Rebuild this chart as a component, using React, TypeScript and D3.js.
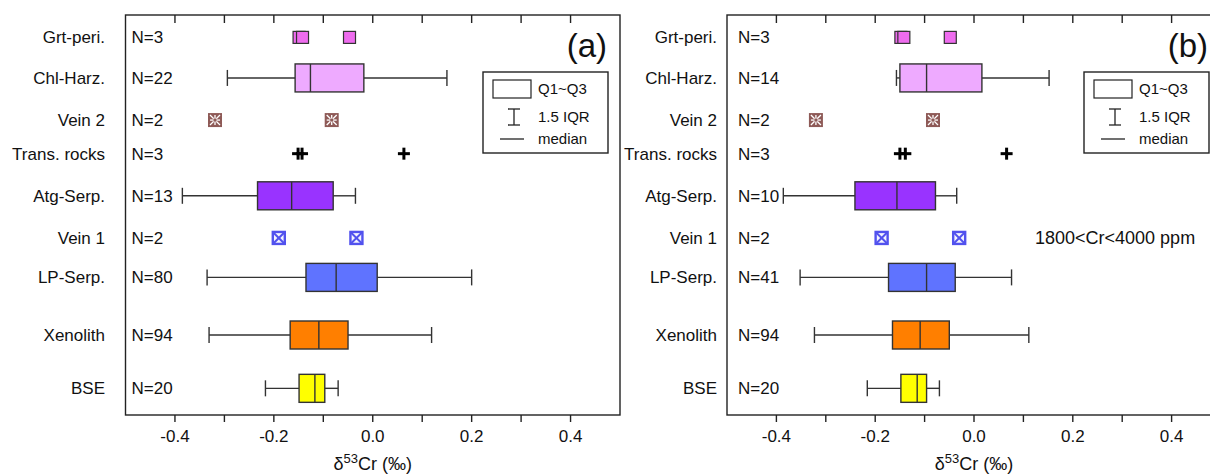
import React from "react";
import * as d3 from "d3";

const W = 1210;
const H = 476;
const FONT = "'Liberation Sans', Arial, sans-serif";

// rows, top to bottom, with their position on the hidden y axis
const categories = ["Grt-peri.", "Chl-Harz.", "Vein 2", "Trans. rocks", "Atg-Serp.", "Vein 1", "LP-Serp.", "Xenolith", "BSE"];
const rowPos = [7.58, 6.82, 6.03, 5.4, 4.61, 3.82, 3.08, 2, 1];

const countsA = [3, 22, 2, 3, 13, 2, 80, 94, 20];
const countsB = [3, 14, 2, 3, 10, 2, 41, 94, 20];

// box rows: [whisker low, Q1, median, Q3, whisker high]
const boxRows = ["Chl-Harz.", "Atg-Serp.", "LP-Serp.", "Xenolith", "BSE"];
const boxColors = ["#eeaaff", "#9933ff", "#5f73ff", "#ff7f00", "#ffff00"];
const statsA = [
  [-0.294, -0.157, -0.126, -0.018, 0.15],
  [-0.385, -0.233, -0.164, -0.08, -0.035],
  [-0.335, -0.135, -0.074, 0.009, 0.2],
  [-0.331, -0.167, -0.109, -0.05, 0.119],
  [-0.217, -0.149, -0.117, -0.097, -0.07],
];
const statsB = [
  [-0.157, -0.15, -0.096, 0.016, 0.152],
  [-0.386, -0.241, -0.156, -0.078, -0.035],
  [-0.352, -0.173, -0.096, -0.038, 0.076],
  [-0.323, -0.165, -0.109, -0.05, 0.111],
  [-0.216, -0.148, -0.115, -0.096, -0.07],
];

// small groups drawn as single points
const grtA = [-0.149, -0.142, -0.047];
const grtB = [-0.148, -0.142, -0.048];
const vein2A = [-0.319, -0.083];
const vein2B = [-0.32, -0.083];
const transA = [-0.151, -0.143, 0.063];
const transB = [-0.15, -0.139, 0.066];
const vein1A = [-0.19, -0.033];
const vein1B = [-0.187, -0.03];

const xTicks = [-0.4, -0.2, 0.0, 0.2, 0.4];

const yScale = d3.scaleLinear().domain([0.5, 8]).range([415, 15]);
const rowY = (name) => yScale(rowPos[categories.indexOf(name)]);

function Panel({ x0, x1, labelEnd, nX, counts, stats, grt, vein2, trans, vein1, tag, legendX, note }) {
  const x = d3.scaleLinear().domain([-0.5, 0.5]).range([x0, x1]);
  const top = yScale.range()[1];
  const bottom = yScale.range()[0];
  const minor = x.ticks(10).filter((t) => Math.abs(t) < 0.5 - 1e-9);
  const fmt = d3.format(".1f");
  const boxH = 28;
  const capH = 16;

  return (
    <g>
      {/* category labels and counts */}
      {categories.map((c, i) => (
        <g key={c}>
          <text x={labelEnd} y={yScale(rowPos[i])} dy="0.35em" textAnchor="end" fontSize={17}>{c}</text>
          <text x={nX} y={yScale(rowPos[i])} dy="0.35em" fontSize={17}>{`N=${counts[i]}`}</text>
        </g>
      ))}

      {/* boxes */}
      {boxRows.map((r, i) => {
        const s = stats[i];
        const cy = rowY(r);
        return (
          <g key={r} stroke="#333" strokeWidth={1.4}>
            <line x1={x(s[0])} x2={x(s[1])} y1={cy} y2={cy} />
            <line x1={x(s[3])} x2={x(s[4])} y1={cy} y2={cy} />
            <line x1={x(s[0])} x2={x(s[0])} y1={cy - capH / 2} y2={cy + capH / 2} />
            <line x1={x(s[4])} x2={x(s[4])} y1={cy - capH / 2} y2={cy + capH / 2} />
            <rect x={x(s[1])} y={cy - boxH / 2} width={x(s[3]) - x(s[1])} height={boxH} fill={boxColors[i]} />
            <line x1={x(s[2])} x2={x(s[2])} y1={cy - boxH / 2} y2={cy + boxH / 2} />
          </g>
        );
      })}

      {/* Grt-peri squares */}
      {grt.map((v, i) => (
        <rect key={"g" + i} x={x(v) - 6} y={rowY("Grt-peri.") - 6} width={12} height={12}
          fill="#ee6cee" stroke="#333" strokeWidth={1.2} />
      ))}

      {/* Vein 2 hatched squares */}
      {vein2.map((v, i) => {
        const cx = x(v);
        const cy = rowY("Vein 2");
        const h = 7;
        const k = 5;
        return (
          <g key={"v2" + i}>
            <rect x={cx - h} y={cy - h} width={2 * h} height={2 * h} fill="#8e5a57" />
            <g stroke="#fff" strokeWidth={1.3}>
              <line x1={cx - k} x2={cx + k} y1={cy} y2={cy} />
              <line x1={cx} x2={cx} y1={cy - k} y2={cy + k} />
              <line x1={cx - k} x2={cx + k} y1={cy - k} y2={cy + k} />
              <line x1={cx - k} x2={cx + k} y1={cy + k} y2={cy - k} />
            </g>
            <rect x={cx - 1.5} y={cy - 1.5} width={3} height={3} fill="#8e5a57" />
          </g>
        );
      })}

      {/* Trans. rocks crosses */}
      {trans.map((v, i) => {
        const cx = x(v);
        const cy = rowY("Trans. rocks");
        return (
          <g key={"t" + i} stroke="#000" strokeWidth={3}>
            <line x1={cx - 6} x2={cx + 6} y1={cy} y2={cy} />
            <line x1={cx} x2={cx} y1={cy - 6} y2={cy + 6} />
          </g>
        );
      })}

      {/* Vein 1 crossed squares */}
      {vein1.map((v, i) => {
        const cx = x(v);
        const cy = rowY("Vein 1");
        const h = 6;
        return (
          <g key={"v1" + i} stroke="#5252ee" strokeWidth={2}>
            <rect x={cx - h} y={cy - h} width={2 * h} height={2 * h} fill="#f4f4ff" strokeWidth={2.4} />
            <line x1={cx - h} x2={cx + h} y1={cy - h} y2={cy + h} />
            <line x1={cx - h} x2={cx + h} y1={cy + h} y2={cy - h} />
          </g>
        );
      })}

      {/* frame and ticks */}
      <rect x={x0} y={top} width={x1 - x0} height={bottom - top} fill="none" stroke="#222" strokeWidth={1.4} />
      {minor.map((t) => (
        <g key={t} stroke="#222" strokeWidth={1.4}>
          <line x1={x(t)} x2={x(t)} y1={top} y2={top + 8} />
          <line x1={x(t)} x2={x(t)} y1={bottom} y2={bottom + 7} />
        </g>
      ))}
      {xTicks.map((t) => (
        <text key={t} x={x(t)} y={442} textAnchor="middle" fontSize={17}>
          {fmt(t).replace("\u2212", "-")}
        </text>
      ))}
      <text x={(x0 + x1) / 2} y={470} textAnchor="middle" fontSize={18}>
        δ<tspan dy={-7} fontSize={13}>53</tspan><tspan dy={7}>Cr (‰)</tspan>
      </text>

      <text x={x1 - 13} y={57} textAnchor="end" fontSize={33}>{tag}</text>

      {/* legend */}
      <g>
        <rect x={legendX} y={72} width={125} height={81} fill="#fff" stroke="#222" strokeWidth={1.4} />
        <rect x={legendX + 10} y={80} width={38} height={18} fill="#fff" stroke="#222" strokeWidth={1.2} />
        <text x={legendX + 55} y={89} dy="0.35em" fontSize={15}>Q1~Q3</text>
        <g stroke="#222" strokeWidth={1.3}>
          <line x1={legendX + 31} x2={legendX + 31} y1={109} y2={125} />
          <line x1={legendX + 25} x2={legendX + 37} y1={109} y2={109} />
          <line x1={legendX + 25} x2={legendX + 37} y1={125} y2={125} />
          <line x1={legendX + 17} x2={legendX + 41} y1={139} y2={139} />
        </g>
        <text x={legendX + 55} y={117} dy="0.35em" fontSize={15}>1.5 IQR</text>
        <text x={legendX + 55} y={139} dy="0.35em" fontSize={15}>median</text>
      </g>

      {note && (
        <text x={1035} y={rowY("Vein 1")} dy="0.35em" fontSize={18}>{note}</text>
      )}
    </g>
  );
}

export default function App() {
  return (
    <svg
      width={W}
      height={H}
      style={{ position: "absolute", left: 0, top: 0, background: "#fff", overflow: "hidden" }}
      fontFamily={FONT}
      fill="#111"
    >
      <rect width={W} height={H} fill="#fff" />
      <Panel x0={125.5} x1={620} labelEnd={105} nX={131.5} counts={countsA} stats={statsA}
        grt={grtA} vein2={vein2A} trans={transA} vein1={vein1A} tag="(a)" legendX={483} />
      <Panel x0={727} x1={1221} labelEnd={717} nX={738} counts={countsB} stats={statsB}
        grt={grtB} vein2={vein2B} trans={transB} vein1={vein1B} tag="(b)" legendX={1084}
        note="1800<Cr<4000 ppm" />
    </svg>
  );
}
